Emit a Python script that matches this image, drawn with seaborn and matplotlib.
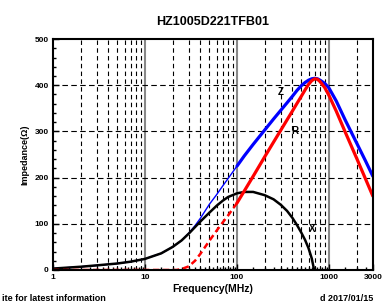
import matplotlib
matplotlib.use('Agg')
import matplotlib.pyplot as plt
import matplotlib.ticker as mticker
import numpy as np
import seaborn as sns

# Impedance data (MHz, Ohm)
freq = [1, 2, 3, 5, 7, 10, 15, 20, 22, 25, 30, 35, 40, 50, 60, 70, 80, 100, 120, 150, 200, 250,
        300, 350, 400, 450, 500, 550, 600, 650, 700, 750, 800, 900, 1000, 1200, 1500, 2000, 2500, 3000]
z_vals = [3, 7, 10, 14, 18, 24, 36, 50, 56, 64, 80, 96, 112, 142, 163, 182, 198, 225, 247, 272, 303, 327,
          346, 362, 376, 389, 399, 406, 411, 414, 415, 414, 411, 404, 394, 366, 325, 275, 236, 203]
r_vals = [0, 0, 0, 0, 0, 0, 0, 0, 0, 2, 8, 20, 35, 63, 85, 103, 118, 145, 171, 203, 245, 277,
          303, 325, 344, 361, 376, 390, 402, 410, 414, 413, 408, 395, 378, 344, 299, 242, 197, 160]
x_freq = [1, 2, 3, 5, 7, 10, 15, 20, 25, 30, 40, 50, 60, 70, 80, 100, 120, 150, 200, 250,
          300, 350, 400, 450, 500, 550, 600, 650, 690]
x_vals = [3, 7, 10, 14, 18, 24, 36, 50, 64, 79, 105, 124, 139, 150, 158, 166, 169, 169, 162, 153,
          141, 128, 113, 97, 81, 65, 47, 25, 0]

labels = {'Z': (300, 385), 'R': (430, 300), 'X': (660, 88)}

sns.set_style('ticks')
plt.rcParams['font.family'] = ['Liberation Sans', 'DejaVu Sans']
plt.rcParams['font.weight'] = 'bold'
plt.rcParams['text.color'] = 'black'
plt.rcParams['axes.labelcolor'] = 'black'
plt.rcParams['xtick.color'] = 'black'
plt.rcParams['ytick.color'] = 'black'

fig = plt.figure(figsize=(3.9, 3.03), dpi=100)
ax = fig.add_axes([0.136, 0.109, 0.820, 0.762])

f = np.array(freq)
lo = f <= 100
hi = f >= 100
sns.lineplot(x=f[lo], y=np.array(z_vals)[lo], color='#0000ff', lw=1.0, ax=ax)
sns.lineplot(x=f[hi], y=np.array(z_vals)[hi], color='#0000ff', lw=2.3, ax=ax)
sns.lineplot(x=x_freq, y=x_vals, color='black', lw=1.8, ax=ax)
sns.lineplot(x=f[lo], y=np.array(r_vals)[lo], color='#ff0000', lw=1.8, ax=ax, linestyle=(0, (2.5, 1.5)))
sns.lineplot(x=f[hi], y=np.array(r_vals)[hi], color='#ff0000', lw=2.3, ax=ax)

ax.set_xscale('log')
ax.set_xlim(1, 3000)
ax.set_ylim(0, 500)

# grid: dashed at minor decades, grey solid at decades
for dec in [1, 10, 100, 1000]:
    for m in range(2, 10):
        v = dec * m
        if v < 3000:
            ax.axvline(v, color='black', lw=0.8, ls=(0, (4, 3)), zorder=0)
for v in [10, 100, 1000]:
    ax.axvline(v, color='#888888', lw=1.5, zorder=0)
for v in [100, 200, 300, 400]:
    ax.axhline(v, color='black', lw=0.8, ls=(0, (5, 3)), zorder=0)

ax.set_xticks([1, 10, 100, 1000, 3000])
ax.xaxis.set_major_formatter(mticker.FuncFormatter(lambda v, p: '%d' % v))
ax.xaxis.set_minor_locator(mticker.LogLocator(base=10, subs=np.arange(1, 10, 0.5)))
ax.xaxis.set_minor_formatter(mticker.NullFormatter())
ax.set_yticks([0, 100, 200, 300, 400, 500])
ax.yaxis.set_minor_locator(mticker.MultipleLocator(20))
ax.tick_params(which='both', direction='in', labelsize=6, width=1, pad=3)
ax.tick_params(which='major', length=4)
ax.tick_params(which='minor', length=2)
for lab in ax.get_xticklabels() + ax.get_yticklabels():
    lab.set_fontweight('bold')
for s in ax.spines.values():
    s.set_linewidth(1.5)
    s.set_color('black')

ax.set_xlabel('Frequency(MHz)', fontsize=7.5, fontweight='bold', labelpad=2)
ax.set_ylabel('Impedance(\u03a9)', fontsize=6.5, fontweight='bold', labelpad=4)
ax.set_title('HZ1005D221TFB01', fontsize=9, fontweight='bold', pad=10)

for name, (lx, ly) in labels.items():
    ax.text(lx, ly, name, fontsize=7, fontweight='bold', ha='center', va='center')

# page text at the bottom edge
fig.text(0.005, 0.0, 'ite for latest information', fontsize=6.5, fontweight='bold', va='bottom')
fig.text(0.956, 0.0, 'd 2017/01/15', fontsize=6.5, fontweight='bold', va='bottom', ha='right')

fig.savefig('out.png', dpi=100)
